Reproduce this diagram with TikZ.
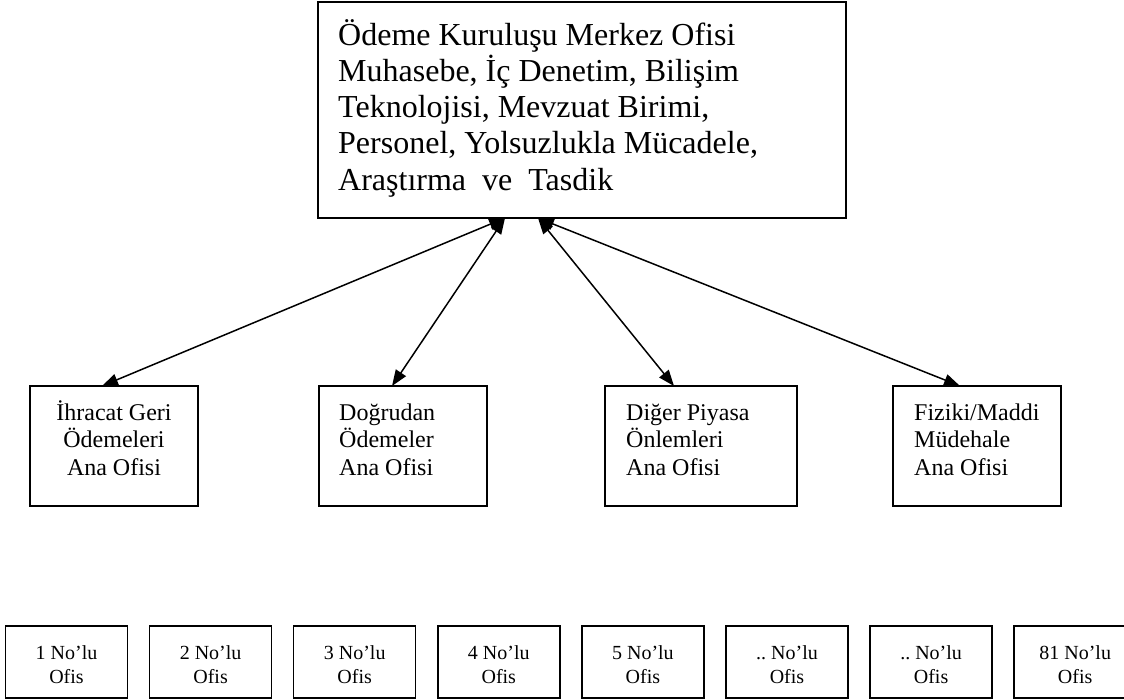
\documentclass[tikz,border=0pt]{standalone}
\usepackage{fontspec}
\setmainfont{Liberation Serif}
\usetikzlibrary{arrows.meta}
% stacked lines with a fixed baseline distance; the box's baseline is the first line's
\newcommand\linesL[1]{\vtop{\lineskiplimit=-\maxdimen\halign{##\hfil\cr#1\crcr}}}
\newcommand\linesC[1]{\vtop{\lineskiplimit=-\maxdimen\halign{\hfil##\hfil\cr#1\crcr}}}
\begin{document}
\begin{tikzpicture}[x=1pt,y=-1pt,
  box/.style={draw, line width=1.5pt, inner sep=0pt, outer sep=0pt},
  conn/.style={line width=1.5pt,
    {Triangle[length=16pt,width=12pt]}-{Triangle[length=16pt,width=12pt]}},
  hqtext/.style={font=\fontsize{32}{36.25}\selectfont, inner sep=0pt, anchor=base west},
  midtext/.style={font=\fontsize{24}{27.5}\selectfont, inner sep=0pt},
  ofistext/.style={font=\fontsize{20}{24}\selectfont, inner sep=0pt, anchor=base}]
\useasboundingbox (0,0) rectangle (1124,699);
\fill[white] (0,0) rectangle (1124,699);
\clip (0,0) rectangle (1124,699);

% head office
\node[box, minimum width=528pt, minimum height=216pt] (hq) at (582,110) {};
\node[hqtext] (hqt) at (338,45) {\linesL{Ödeme Kuruluşu Merkez Ofisi\cr
  Muhasebe, İç Denetim, Bilişim\cr
  Teknolojisi, Mevzuat Birimi,\cr
  Personel, Yolsuzlukla Mücadele,\cr
  Araştırma\ \ ve\ \ Tasdik}};

% main offices
\node[box, minimum width=168pt, minimum height=120pt] (m1) at (114,446) {};
\node[box, minimum width=168pt, minimum height=120pt] (m2) at (403,446) {};
\node[box, minimum width=192pt, minimum height=120pt] (m3) at (701,446) {};
\node[box, minimum width=168pt, minimum height=120pt] (m4) at (977,446) {};
\node[midtext, anchor=base] (m1t) at (114,420) {\linesC{İhracat Geri\cr Ödemeleri\cr Ana Ofisi}};
\node[midtext, anchor=base west] (m2t) at (339,420) {\linesL{Doğrudan\cr Ödemeler\cr Ana Ofisi}};
\node[midtext, anchor=base west] (m3t) at (626,420) {\linesL{Diğer Piyasa\cr Önlemleri\cr Ana Ofisi}};
\node[midtext, anchor=base west] (m4t) at (914,420) {\linesL{Fiziki/Maddi\cr Müdehale\cr Ana Ofisi}};

% connectors
\coordinate (hqA) at ([xshift=-77pt]hq.south);
\coordinate (hqB) at ([xshift=-44pt]hq.south);
\draw[conn] ([xshift=-12pt]m1.north) -- (hqA);
\draw[conn] ([xshift=-11pt]m2.north) -- (hqA);
\draw[conn] ([xshift=-27pt]m3.north) -- (hqB);
\draw[conn] ([xshift=-17pt]m4.north) -- (hqB);

% local offices
\foreach \lab [count=\i from 0] in {1,2,3,4,5,{..},{..},81}{
  \node[box, minimum width=122pt, minimum height=72pt] (of\i) at ({66.5+144.1*\i},662) {};
  \node[ofistext] (oft\i) at ({66.5+144.1*\i},659) {\linesC{\lab\ No’lu\cr Ofis}};
}
\end{tikzpicture}
\end{document}
